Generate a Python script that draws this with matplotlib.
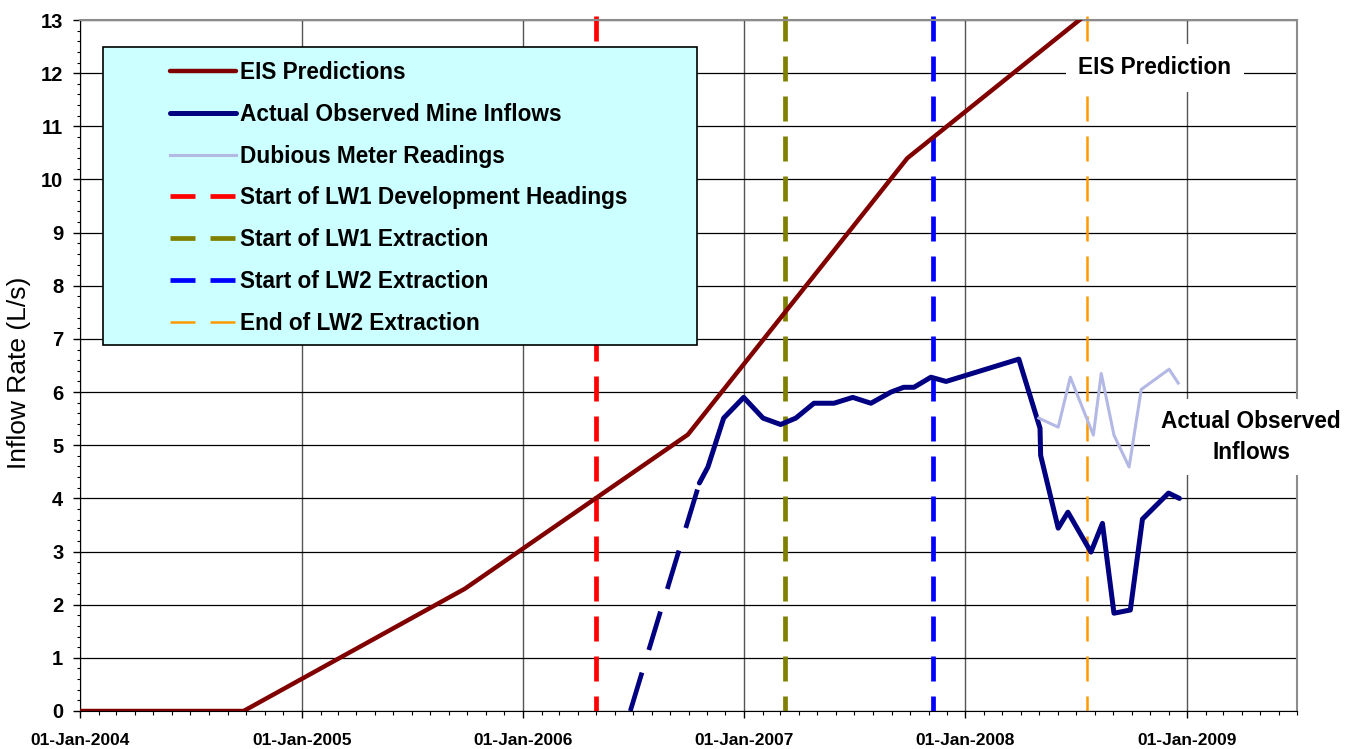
import numpy as np
import pandas as pd
import matplotlib
matplotlib.use('Agg')
import matplotlib.pyplot as plt
import matplotlib.dates as mdates
from matplotlib.patches import Rectangle

plt.rcParams['font.family'] = ['Liberation Sans', 'DejaVu Sans']

# EIS predicted inflows
eis_dates = ['2004-01-01', '2004-09-27', '2005-09-27', '2006-09-30', '2007-09-27', '2008-09-27']
eis_vals = [0, 0, 2.3, 5.2, 10.4, 13.75]

# Actual observed mine inflows
obs_dates = ['2006-10-19', '2006-11-02', '2006-11-28', '2006-12-31', '2007-02-01', '2007-03-02',
             '2007-03-27', '2007-04-26', '2007-05-29', '2007-06-29', '2007-07-29', '2007-08-31',
             '2007-09-21', '2007-10-08', '2007-11-05', '2007-11-30', '2008-03-29', '2008-05-03',
             '2008-05-04', '2008-06-02', '2008-06-18', '2008-07-26', '2008-08-14', '2008-09-02',
             '2008-09-29', '2008-10-19', '2008-12-01', '2008-12-19']
obs_vals = [4.29, 4.59, 5.51, 5.90, 5.51, 5.39,
            5.51, 5.79, 5.79, 5.90, 5.79, 6.00,
            6.09, 6.09, 6.28, 6.20, 6.62, 5.32,
            4.81, 3.44, 3.74, 2.99, 3.53, 1.84,
            1.90, 3.61, 4.10, 4.00]

# assumed ramp-up before first observation
ramp_dates = ['2006-06-27', '2006-10-19']
ramp_vals = [0, 4.29]

# dubious meter readings
dub_dates = ['2008-05-01', '2008-06-02', '2008-06-22', '2008-07-30', '2008-08-12',
             '2008-09-02', '2008-09-27', '2008-10-17', '2008-12-02', '2008-12-17']
dub_vals = [5.51, 5.34, 6.28, 5.19, 6.35, 5.19, 4.59, 6.05, 6.43, 6.17]

# mining events
event_labels = ['Start of LW1 Development Headings', 'Start of LW1 Extraction',
                'Start of LW2 Extraction', 'End of LW2 Extraction']
event_dates = ['2006-05-01', '2007-03-09', '2007-11-08', '2008-07-20']
event_colors = ['#ff0000', '#808000', '#0000ff', '#ff9900']
event_widths = [3.4, 3.4, 3.4, 1.8]

fig = plt.figure(figsize=(13.59, 7.49), dpi=100)
ax = fig.add_axes([80/1359, 1 - 711/749, (1297 - 80)/1359, (711 - 20)/749])

ax.plot(pd.to_datetime(eis_dates), eis_vals, color='#800000', lw=3.2,
        label='EIS Predictions', zorder=3, solid_capstyle='round')
ax.plot(pd.to_datetime(obs_dates), obs_vals, color='#000080', lw=3.6,
        label='Actual Observed Mine Inflows', zorder=3, solid_capstyle='round')
ax.plot(pd.to_datetime(ramp_dates), ramp_vals, color='#000080', lw=3.4,
        dashes=(8.5, 5), zorder=3)
ax.plot(pd.to_datetime(dub_dates), dub_vals, color='#b4b8e4', lw=2.2,
        label='Dubious Meter Readings', zorder=3)

for lab, d, c, w in zip(event_labels, event_dates, event_colors, event_widths):
    dash = (18 / w, 10.8 / w)
    # drawn from the top down so the dash pattern starts at the top edge
    ax.axvline(pd.to_datetime(d), ymin=1.006, ymax=0, color=c, lw=w, dashes=dash,
               label=lab, zorder=2, clip_on=False)

ax.set_xlim(pd.to_datetime('2004-01-01'), pd.to_datetime('2009-07-01'))
ax.set_ylim(0, 13)

ax.xaxis.set_major_locator(mdates.YearLocator())
ax.xaxis.set_major_formatter(mdates.DateFormatter('%d-%b-%Y'))
ax.xaxis.set_minor_locator(mdates.MonthLocator())
ax.set_yticks(np.arange(0, 14, 1))
ax.set_yticks(np.arange(0, 13.01, 0.2), minor=True)

ax.tick_params(axis='x', which='major', length=5, width=1, pad=10.5, labelsize=12.5)
ax.tick_params(axis='x', which='minor', length=3, width=0.8)
ax.tick_params(axis='y', which='major', length=5, width=1, pad=7, labelsize=14.5)
ax.tick_params(axis='y', which='minor', length=2.5, width=0.8)
for t in ax.get_xticklabels() + ax.get_yticklabels():
    t.set_fontweight('bold')

ax.grid(True, axis='y', which='major', color='black', lw=0.9, zorder=0)
ax.grid(True, axis='x', which='major', color='#555555', lw=1.0, zorder=0)
ax.set_axisbelow(True)

ax.spines['top'].set_color('#8c8c8c')
ax.spines['right'].set_color('#8c8c8c')
ax.spines['top'].set_linewidth(1.5)
ax.spines['right'].set_linewidth(1.5)

ax.set_ylabel('Inflow Rate (L/s)', fontsize=19)
ax.yaxis.set_label_coords(-0.040, 0.49)

# legend box
box = Rectangle((103/1359, 1 - 345/749), 594/1359, 298/749, transform=fig.transFigure,
                facecolor='#ccffff', edgecolor='black', lw=1.2, zorder=5, clip_on=False)
ax.add_patch(box)
leg = ax.legend(loc='upper left', bbox_to_anchor=(170/1359, 1 - 61/749),
                bbox_transform=fig.transFigure, frameon=False, borderpad=0,
                borderaxespad=0, handlelength=2.9, handletextpad=0.2,
                labelspacing=0.83, prop={'weight': 'bold', 'size': 16.3})
leg.set_zorder(6)

ax.text((1155 - 80)/1217, (711 - 68)/691, 'EIS Prediction', transform=ax.transAxes,
        ha='center', va='center', fontsize=16.3, fontweight='bold', zorder=7,
        bbox=dict(facecolor='white', edgecolor='none', pad=9))
ax.text((1251 - 80)/1217, (711 - 437)/691, 'Actual Observed\nInflows', transform=ax.transAxes,
        ha='center', va='center', fontsize=16.3, fontweight='bold', linespacing=1.45,
        zorder=7, clip_on=False, bbox=dict(facecolor='white', edgecolor='none', pad=8))

fig.savefig('out.png', dpi=100)
